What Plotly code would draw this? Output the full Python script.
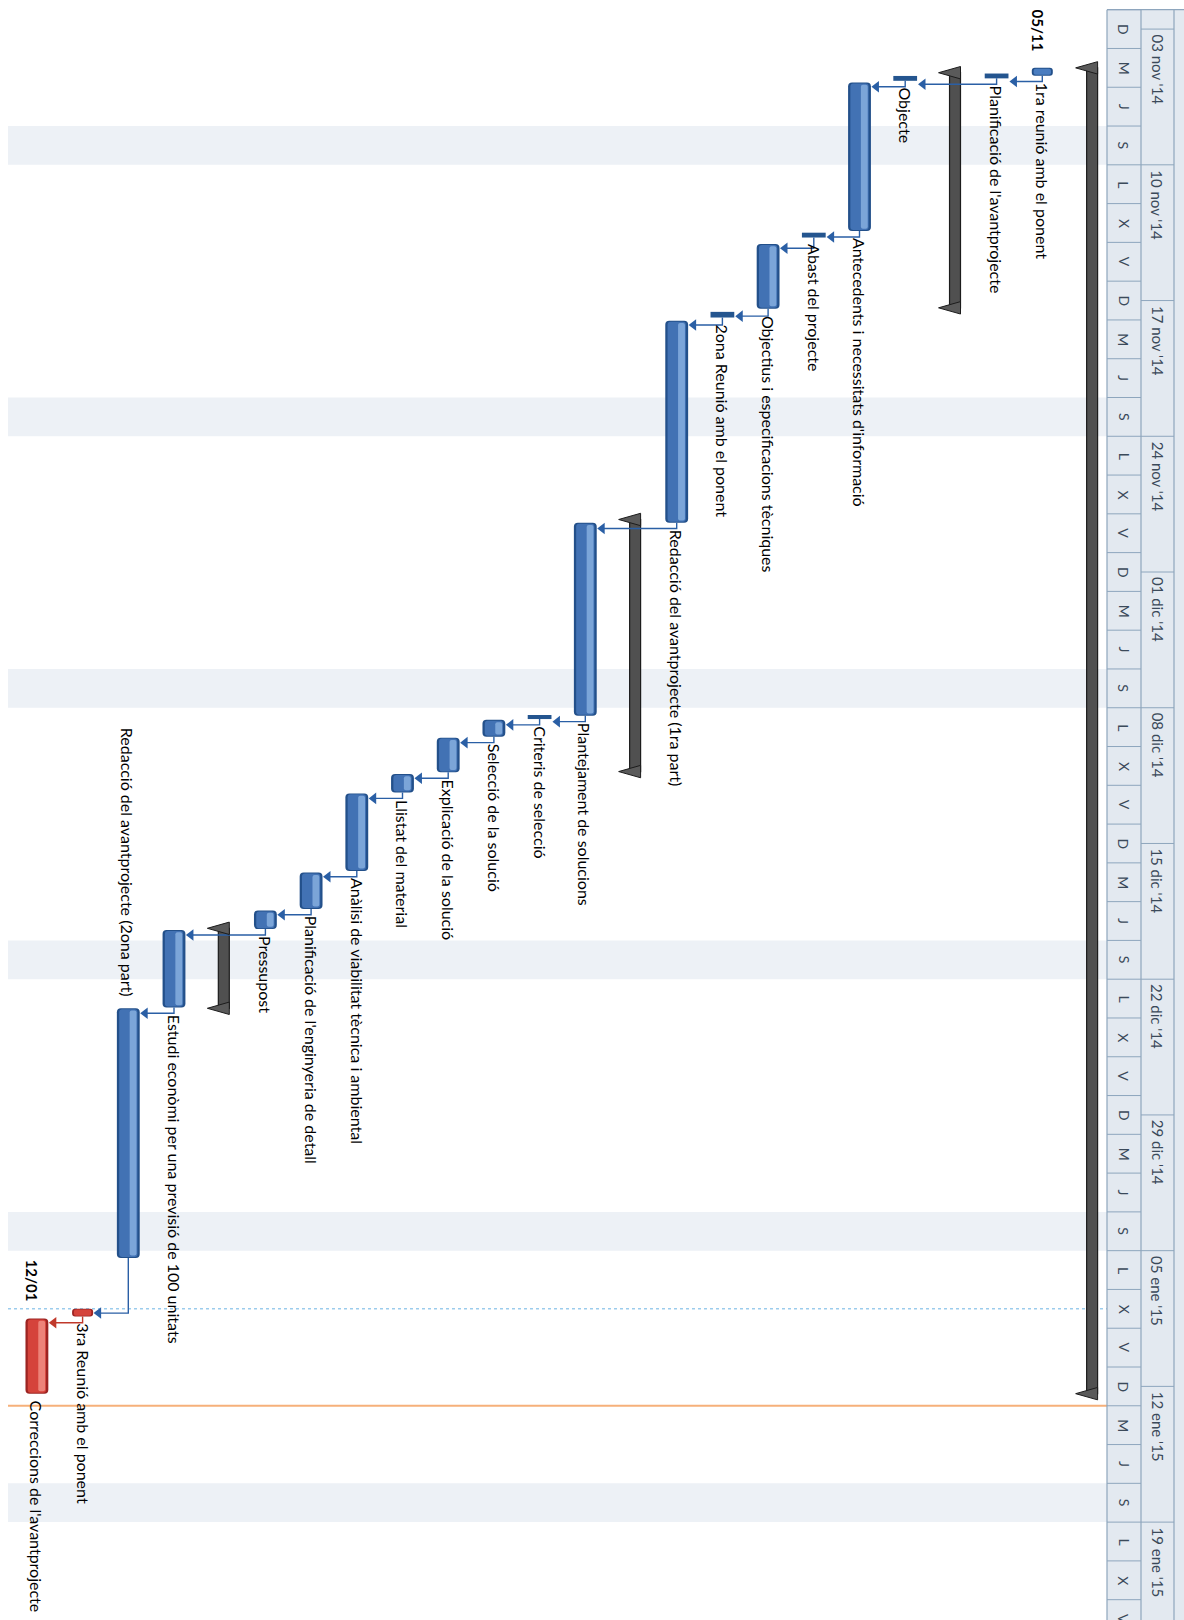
import plotly.graph_objects as go
import pandas as pd

# ---------------- DATA ----------------
ORIGIN = pd.Timestamp("2014-11-02 00:00")

task_names = [
    "",
    "1ra reunió amb el ponent",
    "Planificació de l'avantprojecte",
    "",
    "Objecte",
    "Antecedents i necessitats d'informació",
    "Abast del projecte",
    "Objectius i especificacions tècniques",
    "2ona Reunió amb el ponent",
    "Redacció del avantprojecte (1ra part)",
    "",
    "Plantejament de solucions",
    "Criteris de selecció",
    "Selecció de la solució",
    "Explicació de la solució",
    "Llistat del material",
    "Anàlisi de viabilitat tècnica i ambiental",
    "Planificació de l'enginyeria de detall",
    "Pressupost",
    "",
    "Estudi econòmi per una previsió de 100 unitats",
    "Redacció del avantprojecte (2ona part)",
    "3ra Reunió amb el ponent",
    "Correccions de l'avantprojecte",
]
task_kind = [
    "summary", "milestone", "short", "summary", "short", "task", "short", "task",
    "short", "task", "summary", "task", "short", "task", "task", "task", "task",
    "task", "task", "summary", "task", "task", "milestone", "task",
]
task_start = [
    "2014-11-05 00:00", "2014-11-05 00:00", "2014-11-05 07:00", "2014-11-05 06:00",
    "2014-11-05 10:00", "2014-11-05 18:00", "2014-11-13 12:00", "2014-11-14 02:00",
    "2014-11-17 14:00", "2014-11-18 01:00", "2014-11-28 07:00", "2014-11-28 11:00",
    "2014-12-08 09:00", "2014-12-08 15:00", "2014-12-09 13:00", "2014-12-11 10:00",
    "2014-12-12 10:00", "2014-12-16 12:00", "2014-12-18 11:00", "2014-12-19 09:00",
    "2014-12-19 11:00", "2014-12-23 12:00", "2015-01-08 00:00", "2015-01-08 12:00",
]
task_finish = [
    "2015-01-12 09:00", "2015-01-05 00:00", "2014-11-05 13:00", "2014-11-17 09:00",
    "2014-11-05 16:00", "2014-11-13 10:00", "2014-11-13 18:00", "2014-11-17 10:00",
    "2014-11-17 21:00", "2014-11-28 11:00", "2014-12-11 07:00", "2014-12-08 10:00",
    "2014-12-08 14:00", "2014-12-09 12:00", "2014-12-11 08:00", "2014-12-12 09:00",
    "2014-12-16 10:00", "2014-12-18 09:00", "2014-12-19 10:00", "2014-12-23 12:00",
    "2014-12-23 11:00", "2015-01-05 09:00", "2015-01-08 00:00", "2015-01-12 09:00",
]
critical_rows = [22, 23]
label_before_rows = [21]
date_label_rows = [1, 23]
date_label_texts = ["05/11", "12/01"]
links = [(1, 2), (2, 4), (4, 5), (5, 6), (6, 7), (7, 8), (8, 9), (9, 11), (11, 12),
         (12, 13), (13, 14), (14, 15), (15, 16), (16, 17), (17, 18), (18, 20),
         (20, 21), (21, 22), (22, 23)]

week_labels = ["03 nov '14", "10 nov '14", "17 nov '14", "24 nov '14", "01 dic '14",
               "08 dic '14", "15 dic '14", "22 dic '14", "29 dic '14", "05 ene '15",
               "12 ene '15", "19 ene '15"]
week_starts = ["2014-11-03", "2014-11-10", "2014-11-17", "2014-11-24", "2014-12-01",
               "2014-12-08", "2014-12-15", "2014-12-22", "2014-12-29", "2015-01-05",
               "2015-01-12", "2015-01-19"]
day_initials = ["L", "M", "X", "J", "V", "S", "D"]  # Monday .. Sunday
status_date = "2015-01-08 00:00"
today_date = "2015-01-13 00:00"

# ---------------- GEOMETRY / STYLE ----------------
W, H = 1184, 1620
ROW_PX, ROW0_PX = 45.7, 1088.0
DAY_PX, TOP_PX = 19.39, 9.7
X_LO, X_HI = -ROW0_PX / ROW_PX, (W - ROW0_PX) / ROW_PX
Y_TOP = -TOP_PX / DAY_PX
Y_BOT = Y_TOP + H / DAY_PX
HDR_L, HDR_M, HDR_R = 1107, 1141, 1174
MS_LEN = 0.4
FONT = "Lato, 'Noto Sans', sans-serif"
LABEL_SIZE = 16


def dd(s):
    return (pd.Timestamp(s) - ORIGIN) / pd.Timedelta(days=1)


def paper(px):
    return px / W


S = [dd(v) for v in task_start]
E = [dd(v) for v in task_finish]
X = [-i for i in range(len(task_names))]

fig = go.Figure()


def right_edge(i):
    return {"task": 0.25, "short": 0.27, "milestone": 0.23, "summary": 0.21}[task_kind[i]]


def bottom_of(i):
    return S[i] + MS_LEN if task_kind[i] == "milestone" else E[i]


# ---- connectors (drawn below the bars) ----
BLUE_LINK, RED_LINK = "#2a5fa5", "#c0392b"
groups = {BLUE_LINK: [], RED_LINK: []}
for p, q in links:
    col = RED_LINK if (p in critical_rows and q in critical_rows) else BLUE_LINK
    groups[col].append((p, q))
for color, sel in groups.items():
    lx, ly, ax, ay = [], [], [], []
    for p, q in sel:
        yb = bottom_of(p)
        yh = max(S[q] + 0.22, yb + 0.3)
        xt = X[q] + right_edge(q)
        lx += [X[p], X[p], xt + 0.15, None]
        ly += [yb, yh, yh, None]
        ax.append(xt + 0.12)
        ay.append(yh)
    fig.add_trace(go.Scatter(x=lx, y=ly, mode="lines", line=dict(color=color, width=1.4),
                             hoverinfo="skip", showlegend=False))
    fig.add_trace(go.Scatter(x=ax, y=ay, mode="markers",
                             marker=dict(symbol="triangle-left", size=10, color=color),
                             hoverinfo="skip", showlegend=False))


def add_bar(xs, s, e, width, color, radius, shrink=0.0, offset=None, opacity=1.0):
    kw = dict(x=xs, y=[max(b - a - 2 * shrink, 0.01) for a, b in zip(s, e)],
              base=[a + shrink for a in s], width=width,
              marker=dict(color=color, cornerradius=radius, line=dict(width=0)),
              opacity=opacity, hoverinfo="skip", showlegend=False)
    if offset is not None:
        kw["offset"] = offset
    fig.add_trace(go.Bar(**kw))


# ---- task bars ----
for crit, (dark, mid, light) in ((False, ("#23508a", "#4272b4", "#8ab2e2")),
                                 (True, ("#9c2422", "#d5433b", "#f2948a"))):
    rows = [i for i, k in enumerate(task_kind) if k == "task" and ((i in critical_rows) == crit)]
    xs = [X[i] for i in rows]
    s = [S[i] for i in rows]
    e = [E[i] for i in rows]
    add_bar(xs, s, e, 0.50, dark, 4)
    add_bar(xs, s, e, 0.40, mid, 3, shrink=0.05)
    add_bar(xs, s, e, 0.15, light, 2, shrink=0.12, offset=0.03, opacity=0.8)

# ---- milestones (small capsules) ----
for crit, (dark, mid) in ((False, ("#23508a", "#4a7dc0")), (True, ("#9c2422", "#d5433b"))):
    rows = [i for i, k in enumerate(task_kind) if k == "milestone" and ((i in critical_rows) == crit)]
    xs = [X[i] for i in rows]
    s = [S[i] for i in rows]
    e = [S[i] + MS_LEN for i in rows]
    add_bar(xs, s, e, 0.46, dark, 3)
    add_bar(xs, s, e, 0.38, mid, 2, shrink=0.04)

# ---- short tasks ----
rows = [i for i, k in enumerate(task_kind) if k == "short"]
fig.add_trace(go.Bar(x=[X[i] for i in rows], y=[E[i] - S[i] for i in rows],
                     base=[S[i] for i in rows], width=0.52,
                     marker=dict(color="#24558f", line=dict(width=0)),
                     hoverinfo="skip", showlegend=False))

# ---- summary bars ----
rows = [i for i, k in enumerate(task_kind) if k == "summary"]
fig.add_trace(go.Bar(x=[X[i] for i in rows], y=[E[i] - S[i] for i in rows],
                     base=[S[i] for i in rows], width=0.24, offset=-0.03,
                     marker=dict(color="#505050", line=dict(color="#1c1c1c", width=1.2)),
                     hoverinfo="skip", showlegend=False))
tx, ty = [], []
for i in rows:
    xr, xt, h = X[i] + 0.21, X[i] - 0.27, 0.32
    for yv in (S[i], E[i]):
        tx += [xr, xt, xr, xr, None]
        ty += [yv - h, yv, yv + h, yv - h, None]
fig.add_trace(go.Scatter(x=tx, y=ty, mode="lines", fill="toself", fillcolor="#5a5a5a",
                         line=dict(color="#1c1c1c", width=1), hoverinfo="skip", showlegend=False))

# ---- task labels ----
annotations = []
for i, name in enumerate(task_names):
    if not name:
        continue
    if i in label_before_rows:
        annotations.append(dict(x=X[i], y=S[i] - 0.5, text=name, textangle=90, showarrow=False,
                                xanchor="center", yanchor="bottom",
                                font=dict(family=FONT, size=LABEL_SIZE, color="#000000")))
    else:
        annotations.append(dict(x=X[i], y=bottom_of(i) + 0.25, text=name, textangle=90,
                                showarrow=False, xanchor="center", yanchor="top",
                                font=dict(family=FONT, size=LABEL_SIZE, color="#000000")))
for r, t in zip(date_label_rows, date_label_texts):
    annotations.append(dict(x=X[r] - 0.1, y=S[r] - 0.75, text="<b>" + t + "</b>", textangle=90,
                            showarrow=False, xanchor="center", yanchor="bottom",
                            font=dict(family=FONT, size=15, color="#000000")))

# ---- background shading, status / today lines ----
shapes = []
k = 0
while 2 * k < Y_BOT:
    d0 = ORIGIN + pd.Timedelta(days=2 * k)
    if d0.weekday() == 5:
        shapes.append(dict(type="rect", xref="paper", yref="y", x0=paper(8), x1=paper(HDR_L),
                           y0=2 * k, y1=2 * k + 2, fillcolor="#edf1f6", line=dict(width=0),
                           layer="below"))
    k += 1

shapes.append(dict(type="line", xref="paper", yref="y", x0=paper(8), x1=paper(HDR_L),
                   y0=dd(status_date), y1=dd(status_date),
                   line=dict(color="#6bb4e4", width=1, dash="dot"), layer="below"))
shapes.append(dict(type="line", xref="paper", yref="y", x0=paper(8), x1=paper(HDR_L),
                   y0=dd(today_date), y1=dd(today_date),
                   line=dict(color="#f6b07a", width=2), layer="below"))

# ---- timescale header ----
shapes.append(dict(type="rect", xref="paper", yref="y", x0=paper(HDR_L), x1=1.0,
                   y0=0, y1=Y_BOT + 1, fillcolor="#e3e9f0", line=dict(width=0), layer="below"))
for px in (HDR_L, HDR_M, HDR_R):
    shapes.append(dict(type="line", xref="paper", yref="y", x0=paper(px), x1=paper(px),
                       y0=0, y1=Y_BOT + 1, line=dict(color="#8ea6bd", width=1.2)))
shapes.append(dict(type="line", xref="paper", yref="y", x0=paper(HDR_L), x1=1.0,
                   y0=0, y1=0, line=dict(color="#8ea6bd", width=1.2)))

k = 0
while 2 * k < Y_BOT:
    shapes.append(dict(type="line", xref="paper", yref="y", x0=paper(HDR_L), x1=paper(HDR_M),
                       y0=2 * k, y1=2 * k, line=dict(color="#8ea6bd", width=1)))
    d0 = ORIGIN + pd.Timedelta(days=2 * k)
    annotations.append(dict(x=paper((HDR_L + HDR_M) / 2), xref="paper", y=2 * k + 1, yref="y",
                            text=day_initials[d0.weekday()], textangle=90, showarrow=False,
                            xanchor="center", yanchor="middle",
                            font=dict(family=FONT, size=14, color="#3b4a5a")))
    k += 1

for lab, ws in zip(week_labels, week_starts):
    yv = dd(ws)
    shapes.append(dict(type="line", xref="paper", yref="y", x0=paper(HDR_M), x1=paper(HDR_R),
                       y0=yv, y1=yv, line=dict(color="#8ea6bd", width=1)))
    annotations.append(dict(x=paper((HDR_M + HDR_R) / 2), xref="paper", y=yv + 0.15, yref="y",
                            text=lab, textangle=90, showarrow=False,
                            xanchor="center", yanchor="top",
                            font=dict(family=FONT, size=15, color="#3b4a5a")))

fig.update_layout(
    width=W, height=H,
    margin=dict(l=0, r=0, t=0, b=0),
    paper_bgcolor="white", plot_bgcolor="white",
    barmode="overlay",
    showlegend=False,
    xaxis=dict(range=[X_LO, X_HI], visible=False, fixedrange=True),
    yaxis=dict(range=[Y_BOT, Y_TOP], visible=False, fixedrange=True),
    shapes=shapes,
    annotations=annotations,
)

fig.write_html("out.html")
